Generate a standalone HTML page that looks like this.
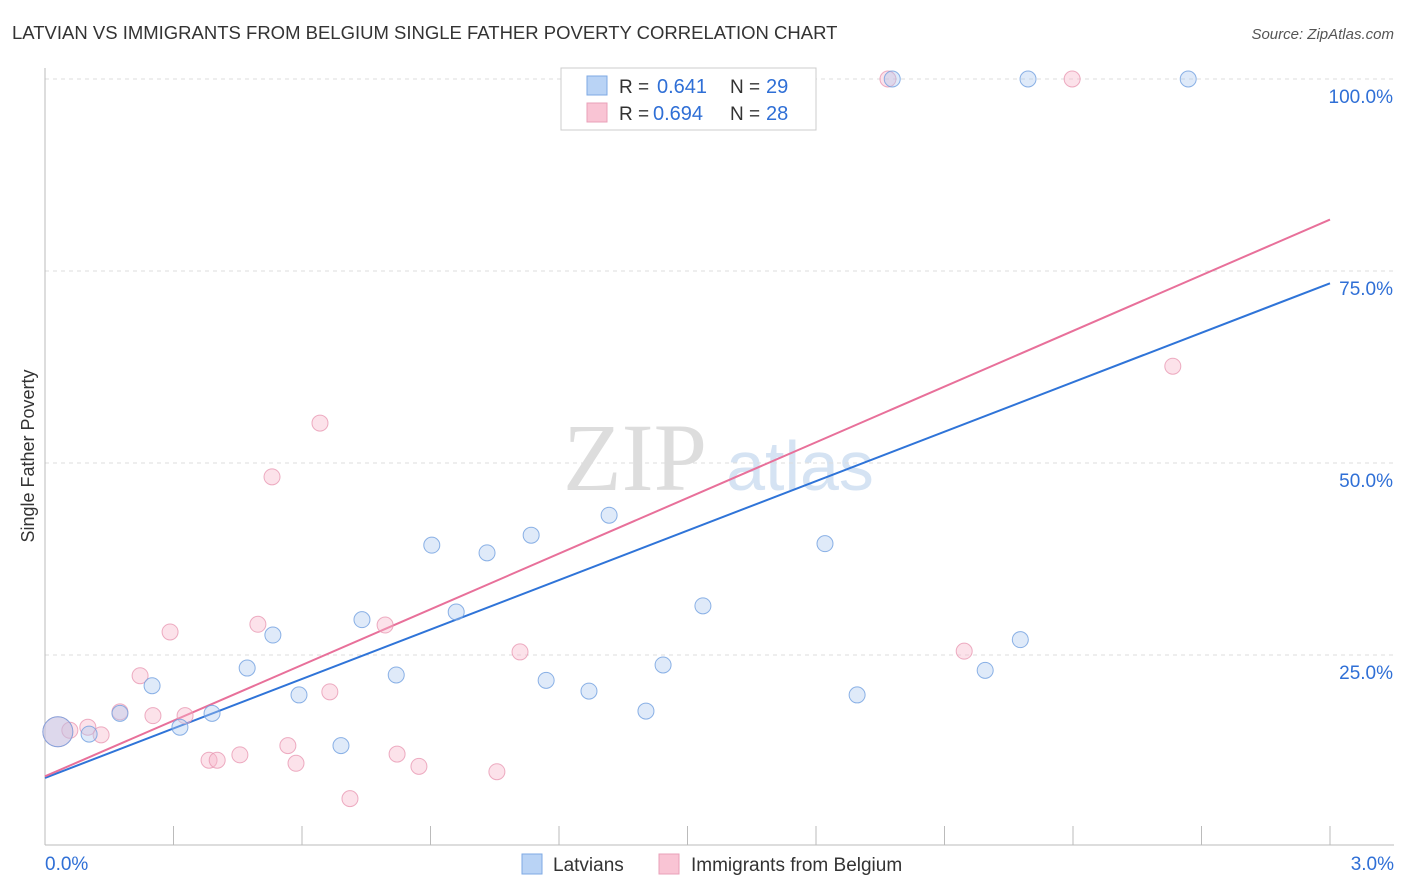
<!DOCTYPE html>
<html><head><meta charset="utf-8"><style>
body{margin:0;background:#fff;font-family:"Liberation Sans",sans-serif;}
#wrap{position:relative;width:1406px;height:892px;overflow:hidden;}
</style></head><body>
<div id="wrap">
<svg id="chart" width="1406" height="892">
<text x="12" y="39" font-size="18.5" fill="#333">LATVIAN VS IMMIGRANTS FROM BELGIUM SINGLE FATHER POVERTY CORRELATION CHART</text>
<text x="1394" y="39" font-size="15" fill="#555" font-style="italic" text-anchor="end">Source: ZipAtlas.com</text>
<text x="34" y="456" font-size="18" fill="#333" text-anchor="middle" transform="rotate(-90 34 456)">Single Father Poverty</text>
<g><text x="635" y="490" font-size="96" fill="#ddd" font-family="Liberation Serif,serif" text-anchor="middle">ZIP</text><text x="800" y="490" font-size="70" fill="#d5e3f3" text-anchor="middle">atlas</text></g>
<g id="grid"></g><g id="trends"></g><g id="pts"></g>
<g>
<rect x="561" y="68" width="255" height="62" fill="#fff" stroke="#ccc"/>
<rect x="587" y="76" width="20" height="19" fill="#b9d3f5" stroke="#7ea9e4"/>
<rect x="587" y="103" width="20" height="19" fill="#f9c4d4" stroke="#e9a0b9"/>
<text x="619" y="93" font-size="19" fill="#333">R =</text><text x="657" y="93" font-size="20" fill="#2f6fd6">0.641</text>
<text x="730" y="93" font-size="19" fill="#333">N =</text><text x="766" y="93" font-size="20" fill="#2f6fd6">29</text>
<text x="619" y="120" font-size="19" fill="#333">R =</text><text x="653" y="120" font-size="20" fill="#2f6fd6">0.694</text>
<text x="730" y="120" font-size="19" fill="#333">N =</text><text x="766" y="120" font-size="20" fill="#2f6fd6">28</text>
</g>
<g>
<rect x="522" y="854" width="20" height="20" fill="#b9d3f5" stroke="#7ea9e4"/>
<text x="553" y="871" font-size="19" fill="#333">Latvians</text>
<rect x="659" y="854" width="20" height="20" fill="#f9c4d4" stroke="#e9a0b9"/>
<text x="691" y="871" font-size="19" fill="#333">Immigrants from Belgium</text>
</g>
<text x="45" y="870" font-size="19" fill="#2f6fd6">0.0%</text>
<text x="1394" y="870" font-size="19" fill="#2f6fd6" text-anchor="end">3.0%</text>
</svg></div>
<script>
const blueX=[0.030,0.103,0.175,0.250,0.315,0.390,0.472,0.532,0.593,0.691,0.740,0.820,0.903,0.960,1.032,1.135,1.170,1.270,1.317,1.403,1.443,1.536,1.821,1.896,1.978,2.195,2.277,2.295,2.669];
const blueY=[15.0,14.7,17.4,21.0,15.6,17.4,23.3,27.6,19.8,13.2,29.6,22.4,39.3,30.6,38.3,40.6,21.7,20.3,43.2,17.7,23.7,31.4,39.5,19.8,100,23.0,27.0,100,100];
const pinkX=[0.030,0.058,0.100,0.131,0.175,0.222,0.252,0.292,0.327,0.383,0.402,0.455,0.497,0.530,0.567,0.586,0.642,0.665,0.712,0.794,0.822,0.873,1.055,1.109,1.968,2.146,2.398,2.633];
const pinkY=[15.0,15.2,15.6,14.6,17.6,22.3,17.1,28.0,17.1,11.3,11.3,12.0,29.0,48.2,13.2,10.9,55.2,20.2,6.3,28.9,12.1,10.5,9.8,25.4,100,25.5,100,62.6];
const blueTrend=[9.0,73.4];
const pinkTrend=[9.2,81.7];
const yTicks=[25,50,75,100];
const yTickLabels=["25.0%","50.0%","75.0%","100.0%"];
const xTicks=[0,0.3,0.6,0.9,1.2,1.5,1.8,2.1,2.4,2.7,3.0];
const NS="http://www.w3.org/2000/svg";
const sx=v=>45+v/3*1285, sy=v=>847-v/100*768;
function mk(t,a,p){const e=document.createElementNS(NS,t);for(const k in a)e.setAttribute(k,a[k]);p.appendChild(e);return e;}
const grid=document.getElementById('grid');
yTicks.forEach((t,i)=>{
 const l=mk('line',{x1:45,x2:1394,y1:sy(t),y2:sy(t),stroke:'#ddd','stroke-dasharray':'4,4'},grid);
 
 
 const tx=mk('text',{x:1393,y:sy(t)+24,'font-size':19,fill:'#2f6fd6','text-anchor':'end'},grid);
 tx.textContent=yTickLabels[i];
 
 
});
const ax=mk('line',{x1:45,x2:1394,y1:845,y2:845,stroke:'#bbb'},grid);


const ay=mk('line',{x1:45,x2:45,y1:68,y2:845,stroke:'#bbb'},grid);


xTicks.forEach(t=>{const l=mk('line',{x1:sx(t),x2:sx(t),y1:826,y2:845,stroke:'#bbb'},grid);
 
 });
const tr=document.getElementById('trends');
[[blueTrend,'#2f74d8','trend-line-latvians'],[pinkTrend,'#e8709a','trend-line-belgium']].forEach(([t,c,n])=>{
 const l=mk('line',{x1:sx(0),y1:sy(t[0]),x2:sx(3),y2:sy(t[1]),stroke:c,'stroke-width':2},tr);
 
 
});
const pts=document.getElementById('pts');
function draw(X,Y,fill,stroke,name){X.forEach((x,i)=>{
 const c=mk('circle',{cx:sx(x),cy:sy(Y[i]),r:i==0?15:8,fill:fill,'fill-opacity':0.4,stroke:stroke,'stroke-width':1,'stroke-opacity':0.8},pts);
 
 
});}
draw(pinkX,pinkY,'#f7b6ca','#e898b3','point-belgium');
draw(blueX,blueY,'#aecbf1','#6f9fe0','point-latvians');
</script>
</body></html>
